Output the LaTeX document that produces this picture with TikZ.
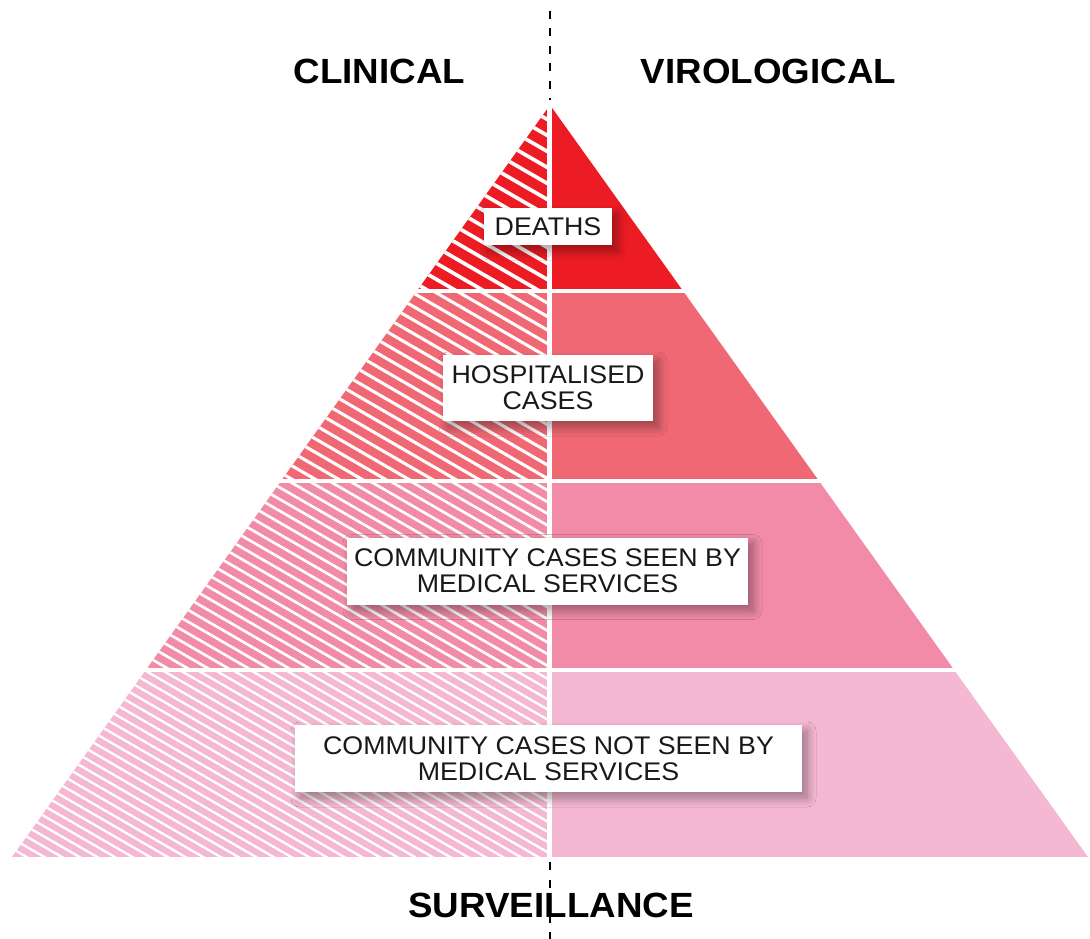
\documentclass[tikz,border=0pt]{standalone}
\usepackage{fontspec}
\setmainfont{Liberation Sans}[FakeStretch=1.05]
\usetikzlibrary{shadows.blur}
\definecolor{deathred}{RGB}{237,28,36}
\definecolor{hosppink}{RGB}{240,104,115}
\definecolor{seenpink}{RGB}{242,139,168}
\definecolor{unseenpink}{RGB}{245,184,210}
\tikzset{
	tierlabel/.style={fill=white, inner sep=0pt, align=center, text=black!90,
		font=\fontsize{25.5}{26}\selectfont,
		blur shadow={shadow xshift=5pt, shadow yshift=-6pt,
			shadow blur radius=9pt, shadow blur steps=16, shadow opacity=38}},
	heading/.style={font=\fontsize{35}{40}\selectfont\bfseries},
	splitline/.style={black, line width=2.4pt, dash pattern=on 8pt off 9.5pt},
	gapline/.style={white, line width=4pt}
}
\begin{document}
\begin{tikzpicture}[x=1pt,y=-1pt]
	\useasboundingbox (0,0) rectangle (1090,939);
	% four tiers, hatched on the clinical side
	\foreach \yt/\yb/\col/\gap in {105/291/deathred/16, 291/480/hosppink/13.5, 480/670/seenpink/11.7, 670/857/unseenpink/10.2}{
		\pgfmathsetmacro\wt{0.7154*(\yt-105)}
		\pgfmathsetmacro\wb{0.7154*(\yb-105)}
		\fill[\col] (550-\wt,\yt) -- (550+\wt,\yt) -- (550+\wb,\yb) -- (550-\wb,\yb) -- cycle;
		\begin{scope}
			\clip (550-\wt,\yt) -- (550,\yt) -- (550,\yb) -- (550-\wb,\yb) -- cycle;
			\foreach \k in {0,...,56}
				\draw[white, line width=0.23*\gap pt] (0,{\yt+\k*\gap-318}) -- (550,{\yt+\k*\gap});
		\end{scope}
	}
	\draw[gapline] (0,291) -- (1090,291);
	\draw[gapline] (0,480.5) -- (1090,480.5);
	\draw[gapline] (0,670) -- (1090,670);
	\draw[gapline] (0,859) -- (1090,859);
	\draw[white, line width=5pt] (549.5,95) -- (549.5,862);
	%\draw (550,105) -- (12,857) -- (1088,857) -- cycle;

	\node[tierlabel, minimum width=128, minimum height=37] (deaths) at (548,226.5) {DEATHS};
	\node[tierlabel, minimum width=210, minimum height=66] (hospital) at (548,388) {HOSPITALISED\\CASES};
	\node[tierlabel, minimum width=401, minimum height=67] (seen) at (547.5,571) {COMMUNITY CASES SEEN BY\\MEDICAL SERVICES};
	\node[tierlabel, minimum width=507, minimum height=67] (unseen) at (548.5,758.5) {COMMUNITY CASES NOT SEEN BY\\MEDICAL SERVICES};

	\node[heading] (clinical) at (379.5,71) {CLINICAL};
	\node[heading] (virological) at (768.5,71) {VIROLOGICAL};
	\node[heading] (surveillance) at (551,905) {SURVEILLANCE};

	\coordinate (topend) at (550,11);
	\coordinate (apexgap) at (550,100);
	\coordinate (baseend) at (550,862);
	\coordinate (bottomend) at (550,939);
	\draw[splitline] (topend) -- (apexgap);
	\draw[splitline] (baseend) -- (bottomend);
\end{tikzpicture}
\end{document}
